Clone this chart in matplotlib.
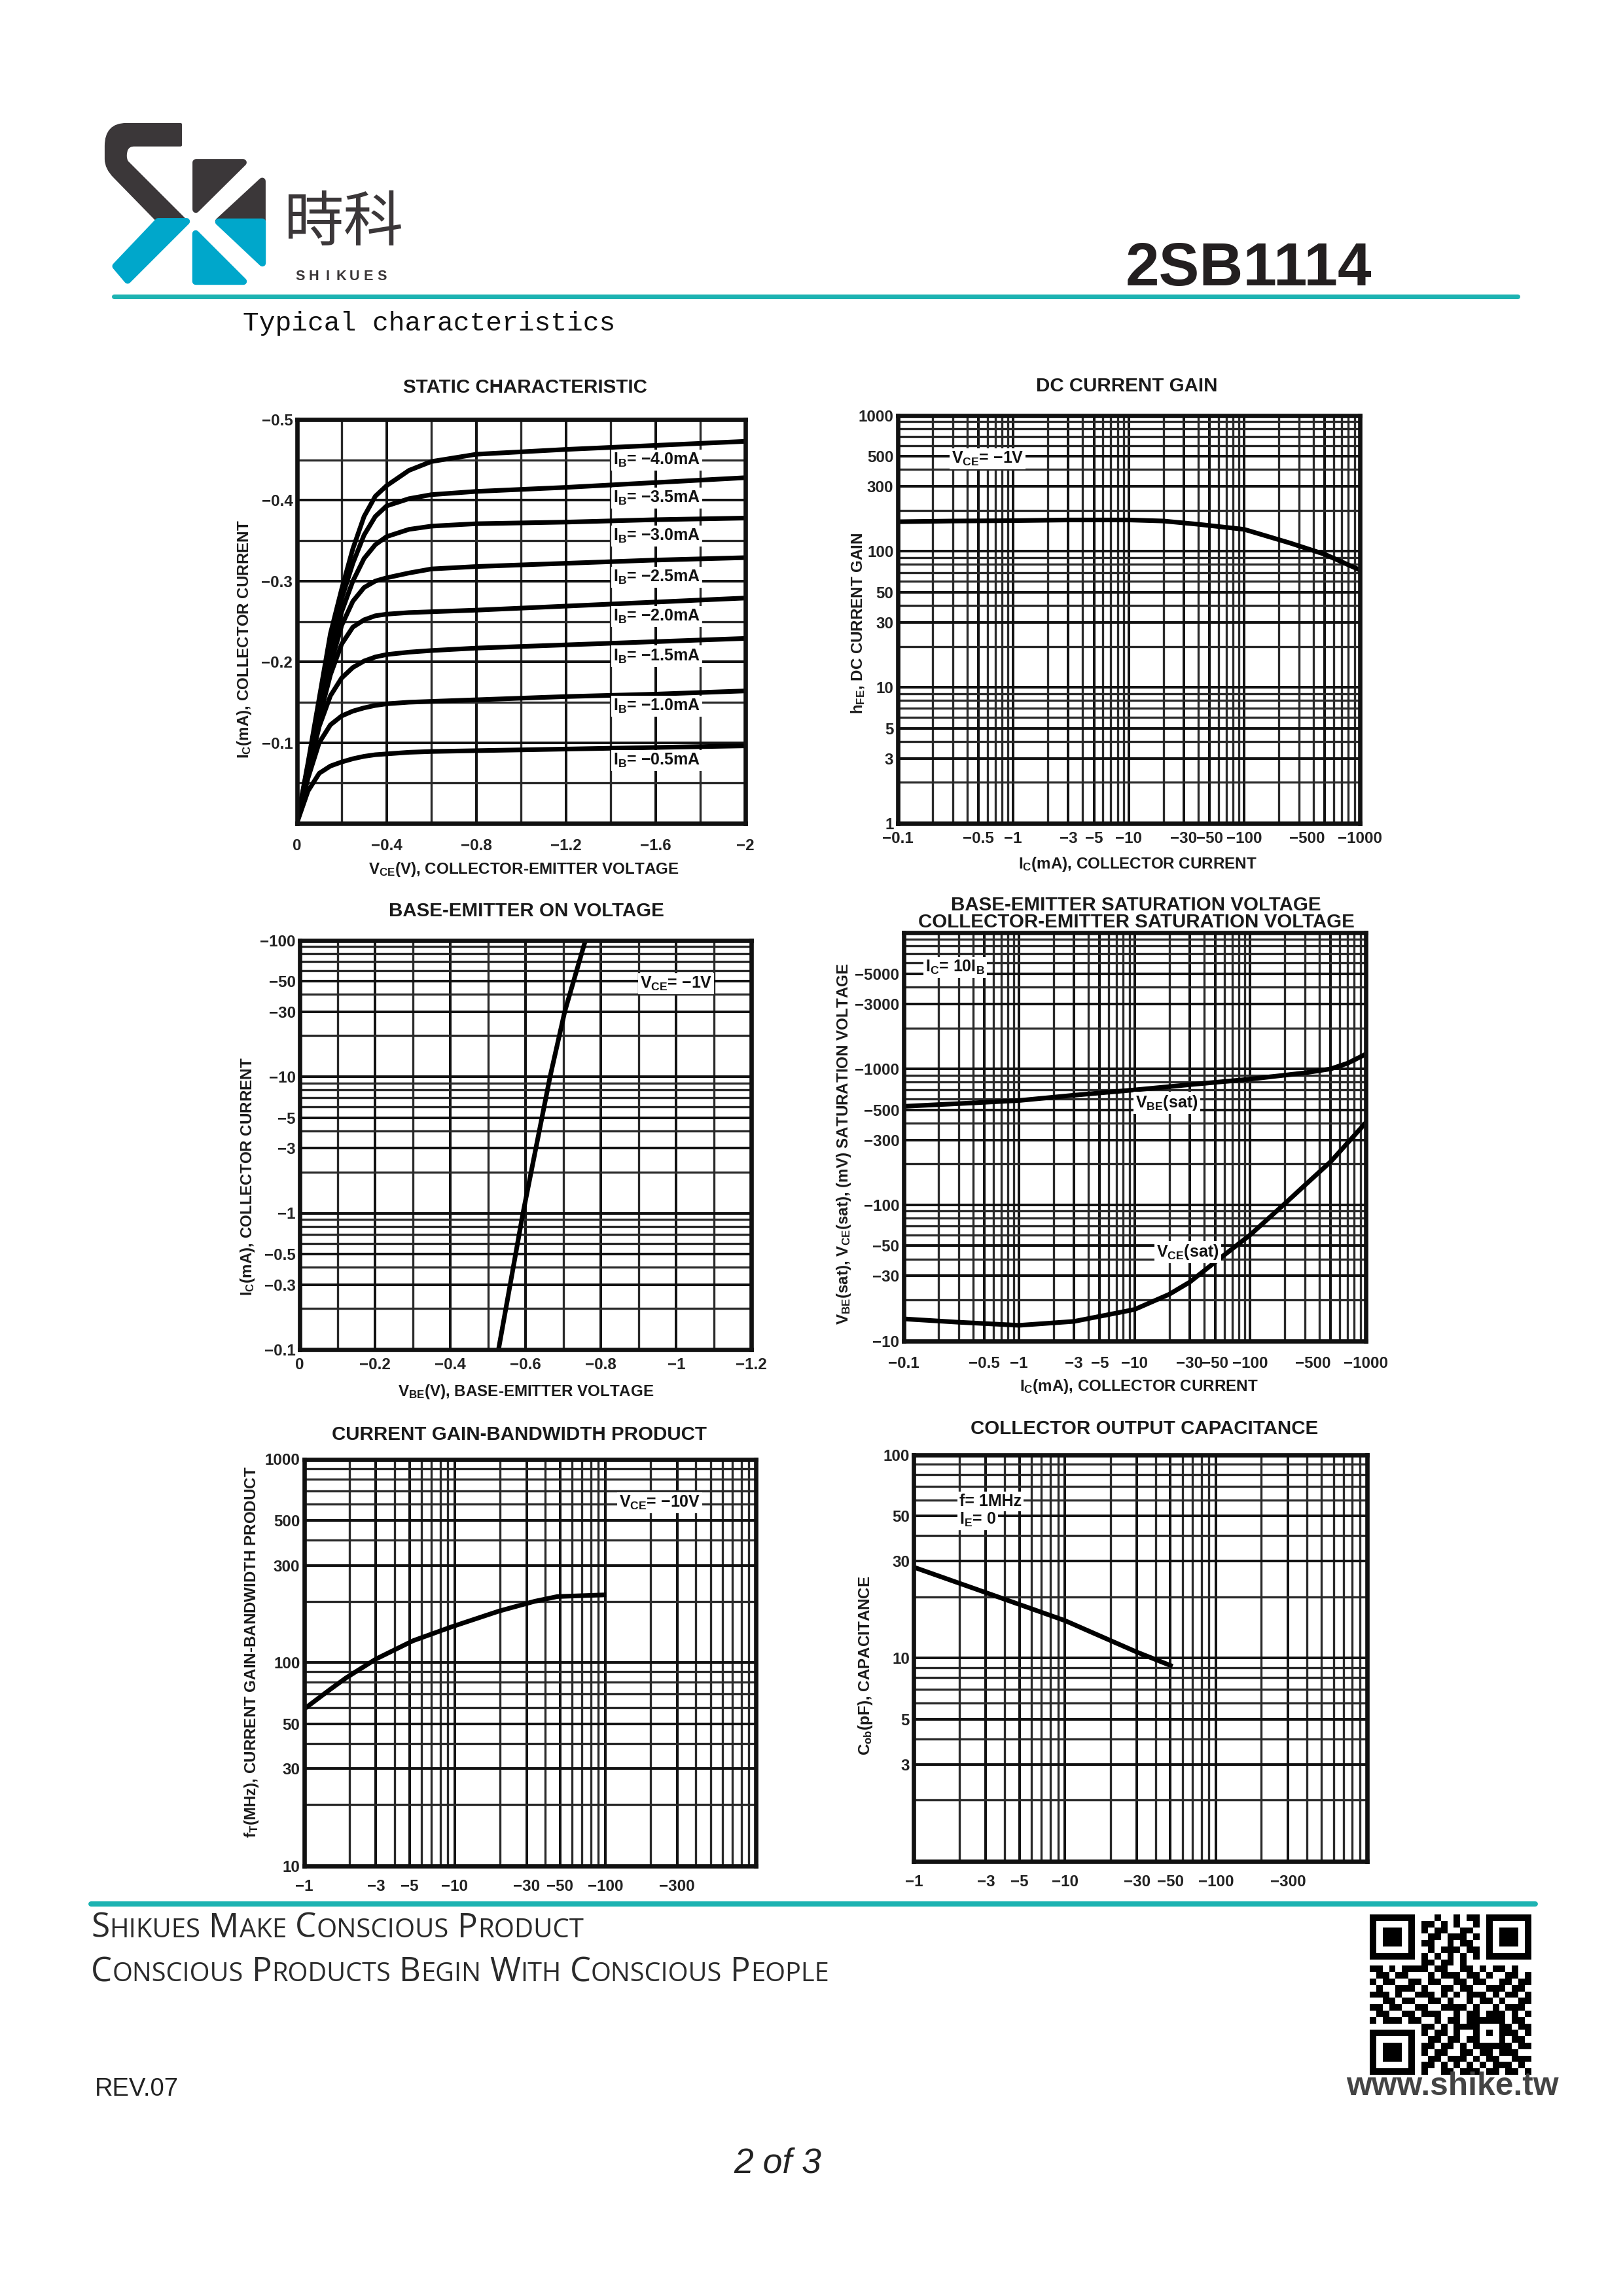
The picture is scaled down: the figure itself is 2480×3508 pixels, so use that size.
import numpy as np
import matplotlib
matplotlib.use("Agg")
import matplotlib.pyplot as plt
from matplotlib.patches import Polygon, PathPatch
from matplotlib.path import Path
from matplotlib.ticker import LogLocator, NullFormatter

plt.rcParams['mathtext.fontset'] = 'custom'
plt.rcParams['mathtext.rm'] = 'Liberation Sans:bold'
plt.rcParams['mathtext.it'] = 'Liberation Sans:bold'
plt.rcParams['mathtext.bf'] = 'Liberation Sans:bold'

# ---- static characteristic (V, as printed) ----
vce = [0, -0.05, -0.1, -0.15, -0.2, -0.25, -0.3, -0.35, -0.4, -0.5, -0.6, -0.8, -1.2, -1.6, -2.0]
ib_names = ['4.0', '3.5', '3.0', '2.5', '2.0', '1.5', '1.0', '0.5']
ic_static = [
    [0, -.075, -.155, -.235, -.29, -.34, -.38, -.405, -.418, -.437, -.448, -.457, -.463, -.468, -.473],
    [0, -.072, -.148, -.222, -.278, -.322, -.357, -.38, -.393, -.402, -.407, -.411, -.416, -.422, -.428],
    [0, -.07, -.142, -.208, -.262, -.3, -.328, -.345, -.355, -.364, -.368, -.371, -.373, -.376, -.378],
    [0, -.068, -.136, -.196, -.245, -.275, -.292, -.3, -.304, -.31, -.315, -.318, -.322, -.326, -.329],
    [0, -.066, -.13, -.184, -.222, -.243, -.252, -.257, -.259, -.261, -.262, -.264, -.269, -.274, -.279],
    [0, -.062, -.12, -.158, -.18, -.193, -.201, -.206, -.209, -.212, -.214, -.217, -.221, -.225, -.229],
    [0, -.056, -.1, -.122, -.133, -.139, -.143, -.146, -.148, -.15, -.151, -.153, -.157, -.16, -.164],
    [0, -.04, -.062, -.071, -.076, -.08, -.083, -.085, -.086, -.088, -.089, -.09, -.092, -.094, -.096],
]
ib_label_y = [-0.450, -0.403, -0.356, -0.305, -0.256, -0.207, -0.145, -0.078]

# ---- DC current gain ----
ic_gain = [-0.1, -0.3, -1, -3, -10, -20, -40, -100, -250, -500, -1000]
hfe = [165, 167, 168, 170, 170, 167, 158, 145, 115, 95, 73]

# ---- base-emitter on voltage ----
vbe_on = [-0.528, -0.593, -0.665, -0.704, -0.759]
ic_on = [-0.1, -1, -10, -30, -100]

# ---- saturation voltages (mV) ----
ic_bes = [-0.1, -0.3, -1, -3, -10, -30, -100, -300, -500, -700, -1000]
vbe_sat = [-530, -555, -585, -640, -700, -765, -840, -935, -1000, -1100, -1280]
ic_ces = [-0.1, -0.3, -1, -3, -10, -20, -30, -50, -100, -200, -300, -500, -1000]
vce_sat = [-14.5, -13.7, -13, -13.9, -17, -22, -27, -38, -60, -102, -140, -208, -400]

# ---- gain-bandwidth product ----
ic_ft = [-1, -1.5, -1.9, -3, -5.3, -9.6, -19.7, -34, -48, -98]
ft = [59, 74, 84, 104, 128, 150, 179, 200, 211, 215]

# ---- output capacitance ----
vcb = [-1, -3, -10, -30, -50]
cob = [28, 21, 15.3, 10.7, 9.2]

# tick labels
lin_x1 = [0, -0.4, -0.8, -1.2, -1.6, -2.0]
lin_x1_lab = ['0', '−0.4', '−0.8', '−1.2', '−1.6', '−2']
lin_y1 = [-0.1, -0.2, -0.3, -0.4, -0.5]
lin_y1_lab = ['−0.1', '−0.2', '−0.3', '−0.4', '−0.5']
ic_ticks = [0.1, 0.5, 1, 3, 5, 10, 30, 50, 100, 500, 1000]
ic_tick_lab = ['−0.1', '−0.5', '−1', '−3', '−5', '−10', '−30', '−50', '−100', '−500', '−1000']
gain_ticks = [1, 3, 5, 10, 30, 50, 100, 300, 500, 1000]
vbe_ticks = [0, -0.2, -0.4, -0.6, -0.8, -1.0, -1.2]
vbe_tick_lab = ['0', '−0.2', '−0.4', '−0.6', '−0.8', '−1', '−1.2']
on_y_ticks = [0.1, 0.3, 0.5, 1, 3, 5, 10, 30, 50, 100]
on_y_lab = ['−0.1', '−0.3', '−0.5', '−1', '−3', '−5', '−10', '−30', '−50', '−100']
sat_y_ticks = [10, 30, 50, 100, 300, 500, 1000, 3000, 5000]
sat_y_lab = ['−10', '−30', '−50', '−100', '−300', '−500', '−1000', '−3000', '−5000']
low_x_ticks = [1, 3, 5, 10, 30, 50, 100, 300]
low_x_lab = ['−1', '−3', '−5', '−10', '−30', '−50', '−100', '−300']
ft_y_ticks = [10, 30, 50, 100, 300, 500, 1000]
cob_y_ticks = [3, 5, 10, 30, 50, 100]

qr_rows = [
    "1111111000100101101111111",
    "1000001011010100101000001",
    "1011101010110011001011101",
    "1011101001101110101011101",
    "1011101011001011001011101",
    "1000001001011101101000001",
    "1111111010101010101111111",
    "0000000011011010000000000",
    "1101011110110011010110100",
    "0110110001011101101001101",
    "1011001101100110110011011",
    "0100111010011011001110110",
    "1110100111010101110101101",
    "0011011001101001011010011",
    "1101100110011110100101110",
    "0110011011100101101110101",
    "1011101100101101111110110",
    "0000000011010111100011011",
    "1111111010110100101011101",
    "1000001001101101100010110",
    "1011101011011010111111011",
    "1011101010110011011011100",
    "1011101001101110101100111",
    "1000001011010101010111010",
    "1111111010011011101101101",
]

W, H = 2480, 3508
fig = plt.figure(figsize=(W / 300, H / 300), dpi=300)
page = fig.add_axes([0, 0, 1, 1])
page.set_xlim(0, W)
page.set_ylim(H, 0)
page.axis('off')
page.set_autoscale_on(False)
renderer = fig.canvas.get_renderer()

TEAL = '#1db3b2'
DARK = '#3b3739'
CYAN = '#00a7cb'
INK = '#1a1a1a'
CF = 'Liberation Sans'


def fit_text(x, y, s, width, size, **kw):
    t = page.text(x, y, s, fontsize=size, **kw)
    w = t.get_window_extent(renderer).width
    t.set_fontsize(size * width / w)
    return t


def small_caps(x, y, s, width, size, **kw):
    runs = []
    for ch in s:
        kind = 's' if ch == ' ' else ('b' if not ch.islower() else 'l')
        if runs and runs[-1][1] == kind:
            runs[-1][0] += ch
        else:
            runs.append([ch, kind])

    def draw(sz):
        cx = x
        arts = []
        for txt, kind in runs:
            if kind == 's':
                cx += len(txt) * 0.26 * sz * 300 / 72
                continue
            t = page.text(cx, y, txt.upper(), fontsize=sz if kind == 'b' else sz * 0.78,
                          va='baseline', ha='left', **kw)
            cx += t.get_window_extent(renderer).width
            arts.append(t)
        return arts, cx - x

    arts, w = draw(size)
    for a in arts:
        a.remove()
    draw(size * width / w)


# ---------------- header ----------------
s_path = Path(
    [(276, 190), (193, 190), (162, 190), (162, 223), (162, 243), (162, 257), (175, 270),
     (241.7, 338.3), (285, 338.3), (195, 248.3), (191.7, 245), (191.7, 238),
     (191.7, 221.7), (205, 221.7), (276, 221.7), (276, 190)],
    [Path.MOVETO, Path.LINETO, Path.CURVE3, Path.CURVE3, Path.LINETO, Path.CURVE3, Path.CURVE3,
     Path.LINETO, Path.LINETO, Path.LINETO, Path.CURVE3, Path.CURVE3,
     Path.CURVE3, Path.CURVE3, Path.LINETO, Path.CLOSEPOLY])
page.add_patch(PathPatch(s_path, fc=DARK, ec=DARK, lw=1, joinstyle='round'))
logo_polys = [
    ([(241.7, 338.3), (285, 338.3), (195, 428.3), (176.7, 406.7)], CYAN),
    ([(299.3, 248.3), (371.7, 248.3), (299.3, 320)], DARK),
    ([(400.7, 276.7), (334, 338.3), (400.7, 338.3)], DARK),
    ([(334, 339.3), (400.7, 339.3), (400.7, 401.7)], CYAN),
    ([(299.3, 356.7), (299.3, 430), (371.7, 430)], CYAN),
]
for pts, col in logo_polys:
    page.add_patch(Polygon(pts, closed=True, fc=col, ec=col, lw=2.5, joinstyle='round'))
page.text(525, 342, '時科', fontsize=22, family=['Noto Sans CJK TC', 'DejaVu Sans'],
          color=DARK, ha='center', va='center')
for i, ch in enumerate('SHIKUES'):
    page.text(459 + i * 20.7, 428, ch, fontsize=5.2, family='Liberation Sans', fontweight='bold',
              color=DARK, ha='center', va='baseline')
fit_text(1720, 436, '2SB1114', 376, 22, family='Liberation Sans', fontweight='bold',
         color='#231f20', ha='left', va='baseline')
page.plot([174, 2319], [452.5, 452.5], color=TEAL, lw=1.7, solid_capstyle='round')
fit_text(371, 505, 'Typical characteristics', 569, 10, family='Liberation Mono',
         color='#111', ha='left', va='baseline')


# ---------------- charts ----------------
def box(x0, y0, x1, y1):
    return [x0 / W, 1 - y1 / H, (x1 - x0) / W, (y1 - y0) / H]


TICKFONT = dict(fontsize=5.8, fontweight='bold', color='#222', family=CF)
LABELBOX = dict(boxstyle='square,pad=0.12', fc='white', ec='none')


def style(ax, xpad, ypad):
    ax.set_facecolor('white')
    for sp in ax.spines.values():
        sp.set_linewidth(1.6)
        sp.set_color('#111')
    ax.tick_params(which='both', length=0)
    ax.tick_params(axis='x', pad=xpad)
    ax.tick_params(axis='y', pad=ypad)
    ax.set_axisbelow(True)


def log_grid(ax, axis):
    a = ax.xaxis if axis == 'x' else ax.yaxis
    a.set_minor_locator(LogLocator(base=10, subs=np.arange(2, 10), numticks=100))
    a.set_minor_formatter(NullFormatter())


def grids(ax):
    ax.grid(which='major', color='#111', lw=0.95)
    ax.grid(which='minor', color='#2a2a2a', lw=0.8)


def tighten_500(ax):
    # the -500 label sits close to -1000, as in the printed chart
    for lbl in ax.get_xticklabels():
        if lbl.get_text() == '−500':
            lbl.set_ha('right')


def chart_text(ax, x, y, s, ha='center'):
    ax.text(x, y, s, ha=ha, va='center', bbox=LABELBOX, fontsize=6, fontweight='bold',
            color='#111', family=CF, zorder=5)


def page_label(x, y, s, size=5.8, rot=0):
    page.text(x, y, s, ha='center', va='center', rotation=rot, fontsize=size,
              fontweight='bold', color=INK, family=CF)


# 1 static characteristic
ax1 = fig.add_axes(box(453.5, 641, 1139, 1258))
style(ax1, 5.5, 1.5)
for curve in ic_static:
    ax1.plot(vce, curve, color='black', lw=1.7)
ax1.set_xlim(0, -2)
ax1.set_ylim(0, -0.5)
ax1.set_xticks(lin_x1)
ax1.set_xticklabels(lin_x1_lab, **TICKFONT)
ax1.set_xticks([-0.2, -0.6, -1.0, -1.4, -1.8], minor=True)
ax1.set_yticks(lin_y1)
ax1.set_yticklabels(lin_y1_lab, **TICKFONT)
ax1.set_yticks([-0.05, -0.15, -0.25, -0.35, -0.45], minor=True)
grids(ax1)
for name, yv in zip(ib_names, ib_label_y):
    chart_text(ax1, -1.41, yv, r'I$_\mathrm{B}$= −' + name + 'mA', ha='left')
page_label(802, 592, 'STATIC CHARACTERISTIC', 7.1)
page_label(373, 977, r'I$_\mathrm{C}$(mA), COLLECTOR CURRENT', rot=90)
page_label(800, 1329, r'V$_\mathrm{CE}$(V), COLLECTOR-EMITTER VOLTAGE')

# 2 DC current gain
ax2 = fig.add_axes(box(1371.7, 634.5, 2077.6, 1258))
style(ax2, 3, 1.5)
ax2.plot(np.abs(ic_gain), hfe, color='black', lw=1.7)
ax2.set_xscale('log')
ax2.set_yscale('log')
ax2.set_xlim(0.1, 1000)
ax2.set_ylim(1, 1000)
log_grid(ax2, 'x')
log_grid(ax2, 'y')
ax2.set_xticks(ic_ticks)
ax2.set_xticklabels(ic_tick_lab, **TICKFONT)
tighten_500(ax2)
ax2.set_yticks(gain_ticks)
ax2.set_yticklabels([str(v) for v in gain_ticks], **TICKFONT)
grids(ax2)
chart_text(ax2, 0.6, 480, r'V$_\mathrm{CE}$= −1V')
page_label(1722, 590, 'DC CURRENT GAIN', 7.1)
page_label(1311, 952, r'h$_\mathrm{FE}$, DC CURRENT GAIN', rot=90)
page_label(1738, 1320, r'I$_\mathrm{C}$(mA), COLLECTOR CURRENT')

# 3 base-emitter on voltage
ax3 = fig.add_axes(box(458, 1436.5, 1148.3, 2062))
style(ax3, 3, 1.5)
ax3.plot(vbe_on, np.abs(ic_on), color='black', lw=1.7)
ax3.set_yscale('log')
ax3.set_xlim(0, -1.2)
ax3.set_ylim(0.1, 100)
log_grid(ax3, 'y')
ax3.set_xticks(vbe_ticks)
ax3.set_xticklabels(vbe_tick_lab, **TICKFONT)
ax3.set_xticks([-0.1, -0.3, -0.5, -0.7, -0.9, -1.1], minor=True)
ax3.set_yticks(on_y_ticks)
ax3.set_yticklabels(on_y_lab, **TICKFONT)
grids(ax3)
chart_text(ax3, -1.0, 48, r'V$_\mathrm{CE}$= −1V')
page_label(804, 1392, 'BASE-EMITTER ON VOLTAGE', 7.1)
page_label(378, 1798, r'I$_\mathrm{C}$(mA), COLLECTOR CURRENT', rot=90)
page_label(804, 2127, r'V$_\mathrm{BE}$(V), BASE-EMITTER VOLTAGE')

# 4 saturation voltages
ax4 = fig.add_axes(box(1380.6, 1425.3, 2086.6, 2048.6))
style(ax4, 5.5, 1.5)
ax4.plot(np.abs(ic_bes), np.abs(vbe_sat), color='black', lw=1.7)
ax4.plot(np.abs(ic_ces), np.abs(vce_sat), color='black', lw=1.7)
ax4.set_xscale('log')
ax4.set_yscale('log')
ax4.set_xlim(0.1, 1000)
ax4.set_ylim(10, 10000)
log_grid(ax4, 'x')
log_grid(ax4, 'y')
ax4.set_xticks(ic_ticks)
ax4.set_xticklabels(ic_tick_lab, **TICKFONT)
tighten_500(ax4)
ax4.set_yticks(sat_y_ticks)
ax4.set_yticklabels(sat_y_lab, **TICKFONT)
grids(ax4)
chart_text(ax4, 0.28, 5600, r'I$_\mathrm{C}$= 10I$_\mathrm{B}$')
chart_text(ax4, 19, 560, r'V$_\mathrm{BE}$(sat)')
chart_text(ax4, 29, 45, r'V$_\mathrm{CE}$(sat)')
page.text(1736, 1396, 'BASE-EMITTER SATURATION VOLTAGE\nCOLLECTOR-EMITTER SATURATION VOLTAGE',
          ha='center', va='center', fontsize=7.1, fontweight='bold', color=INK, family=CF,
          linespacing=0.95, multialignment='center')
page_label(1289, 1748, r'V$_\mathrm{BE}$(sat), V$_\mathrm{CE}$(sat), (mV) SATURATION VOLTAGE', rot=90)
page_label(1740, 2118, r'I$_\mathrm{C}$(mA), COLLECTOR CURRENT')

# 5 gain-bandwidth product
ax5 = fig.add_axes(box(464.7, 2229.5, 1155, 2850.6))
style(ax5, 5, 1.5)
ax5.plot(np.abs(ic_ft), ft, color='black', lw=1.7)
ax5.set_xscale('log')
ax5.set_yscale('log')
ax5.set_xlim(1, 1000)
ax5.set_ylim(10, 1000)
log_grid(ax5, 'x')
log_grid(ax5, 'y')
ax5.set_xticks(low_x_ticks)
ax5.set_xticklabels(low_x_lab, **TICKFONT)
ax5.set_yticks(ft_y_ticks)
ax5.set_yticklabels([str(v) for v in ft_y_ticks], **TICKFONT)
grids(ax5)
chart_text(ax5, 230, 611, r'V$_\mathrm{CE}$= −10V')
page_label(793, 2192, 'CURRENT GAIN-BANDWIDTH PRODUCT', 7.1)
page_label(384, 2524, r'f$_\mathrm{T}$(MHz), CURRENT GAIN-BANDWIDTH PRODUCT', rot=90)

# 6 output capacitance
ax6 = fig.add_axes(box(1396.3, 2222.8, 2088.8, 2843.9))
style(ax6, 4.8, 1.5)
ax6.plot(np.abs(vcb), cob, color='black', lw=1.7)
ax6.set_xscale('log')
ax6.set_yscale('log')
ax6.set_xlim(1, 1000)
ax6.set_ylim(1, 100)
log_grid(ax6, 'x')
log_grid(ax6, 'y')
ax6.set_xticks(low_x_ticks)
ax6.set_xticklabels(low_x_lab, **TICKFONT)
ax6.set_yticks(cob_y_ticks)
ax6.set_yticklabels([str(v) for v in cob_y_ticks], **TICKFONT)
grids(ax6)
chart_text(ax6, 2.0, 59, 'f= 1MHz', ha='left')
chart_text(ax6, 2.0, 48, r'I$_\mathrm{E}$= 0', ha='left')
page_label(1749, 2183, 'COLLECTOR OUTPUT CAPACITANCE', 7.1)
page_label(1322, 2545, r'C$_\mathrm{ob}$(pF), CAPACITANCE', rot=90)

# ---------------- footer ----------------
page.plot([139, 2346], [2908.5, 2908.5], color=TEAL, lw=1.9, solid_capstyle='round')
small_caps(139, 2960, 'Shikues Make Conscious Product', 754, 11.8,
           family='Open Sans', color='#2b2b2b')
small_caps(139, 3027, 'Conscious Products Begin With Conscious People', 1130, 11.8,
           family='Open Sans', color='#2b2b2b')
fit_text(145, 3202, 'REV.07', 128, 10.5, family='Liberation Sans', color='#222',
         ha='left', va='baseline')
fit_text(2057, 3201, 'www.shike.tw', 324, 11.8, family='Liberation Sans', fontweight='bold',
         color='#444', ha='left', va='baseline')
fit_text(1121, 3320, '2 of 3', 134, 12.5, family='Liberation Sans', style='italic',
         color='#222', ha='left', va='baseline')

qr = np.array([[int(c) for c in r[:25].ljust(25, '0')] for r in qr_rows])
page.imshow(qr, cmap='gray_r', vmin=0, vmax=1, interpolation='nearest',
            extent=(2093, 2340, 3170, 2925), aspect='auto', zorder=2)
page.set_xlim(0, W)
page.set_ylim(H, 0)

fig.savefig('out.png', dpi=300, facecolor='white')
